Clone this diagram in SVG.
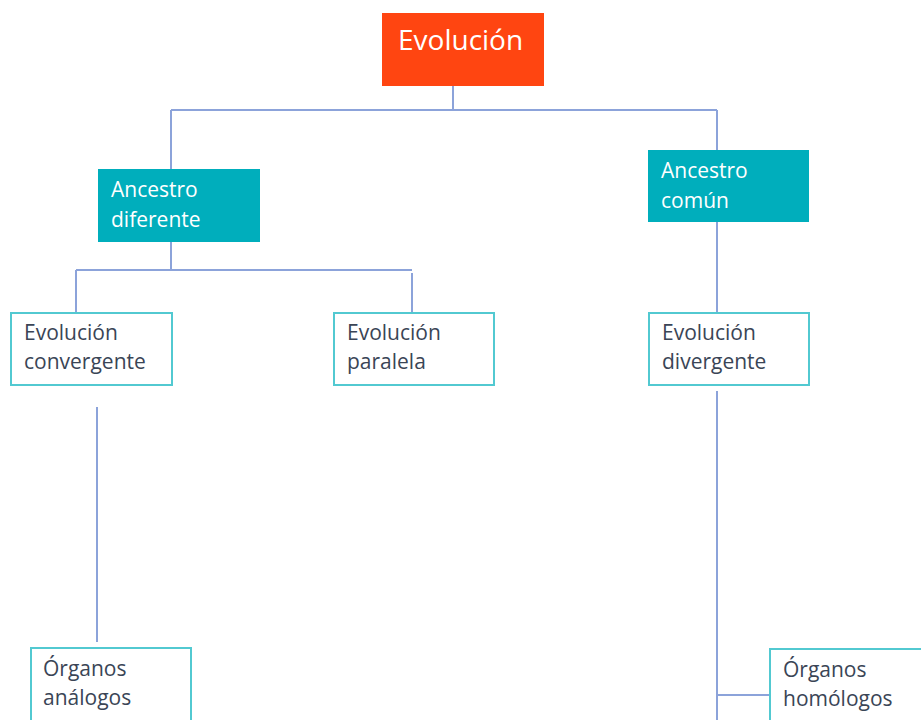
<svg xmlns="http://www.w3.org/2000/svg" width="921" height="720" viewBox="0 0 921 720">
<style>
.root{fill:#FF4511}
.mid{fill:#00AEBC}
.leaf{fill:#FFFFFF;stroke:#52C9D1;stroke-width:2}
.t{font-family:"Open Sans","Noto Sans","DejaVu Sans",sans-serif;font-size:21px}
.w{fill:#FFFFFF}
.d{fill:#3A4556}
.c{fill:none;stroke:#8CA3DA;stroke-width:2}
</style>
<rect width="921" height="720" fill="#FFFFFF"/>
<g id="connectors">
<path class="c" d="M453,86 V110 M171,110 H717 M171,110 V169 M717,110 V150"/>
<path class="c" d="M171,242 V270 M76,270 H412 M76,270 V312 M412,273 V312"/>
<path class="c" d="M717,222 V312"/>
<path class="c" d="M97,407 V642"/>
<path class="c" d="M717,391 V720 M717,695 H769"/>
</g>
<g id="evolucion">
<rect class="root" x="382" y="13" width="162" height="73"/>
<text class="w" x="398" y="50" style="font-family:'Open Sans','Noto Sans',sans-serif;font-size:28px">Evolución</text>
</g>
<g id="ancestro-diferente">
<rect class="mid" x="98" y="169" width="162" height="73"/>
<text class="t w" x="111" y="197">Ancestro</text>
<text class="t w" x="111" y="227">diferente</text>
</g>
<g id="ancestro-comun">
<rect class="mid" x="648" y="150" width="161" height="72"/>
<text class="t w" x="661" y="178">Ancestro</text>
<text class="t w" x="661" y="208">común</text>
</g>
<g id="evolucion-convergente">
<rect class="leaf" x="11" y="313" width="161" height="72"/>
<text class="t d" x="24" y="340">Evolución</text>
<text class="t d" x="24" y="369">convergente</text>
</g>
<g id="evolucion-paralela">
<rect class="leaf" x="334" y="313" width="160" height="72"/>
<text class="t d" x="347" y="340">Evolución</text>
<text class="t d" x="347" y="369">paralela</text>
</g>
<g id="evolucion-divergente">
<rect class="leaf" x="649" y="313" width="160" height="72"/>
<text class="t d" x="662" y="340">Evolución</text>
<text class="t d" x="662" y="369">divergente</text>
</g>
<g id="organos-analogos">
<rect class="leaf" x="31" y="648" width="160" height="80"/>
<text class="t d" x="43" y="676">Órganos</text>
<text class="t d" x="43" y="705">análogos</text>
</g>
<g id="organos-homologos">
<rect class="leaf" x="770" y="649" width="160" height="80"/>
<text class="t d" x="783" y="677">Órganos</text>
<text class="t d" x="783" y="706">homólogos</text>
</g>
</svg>
